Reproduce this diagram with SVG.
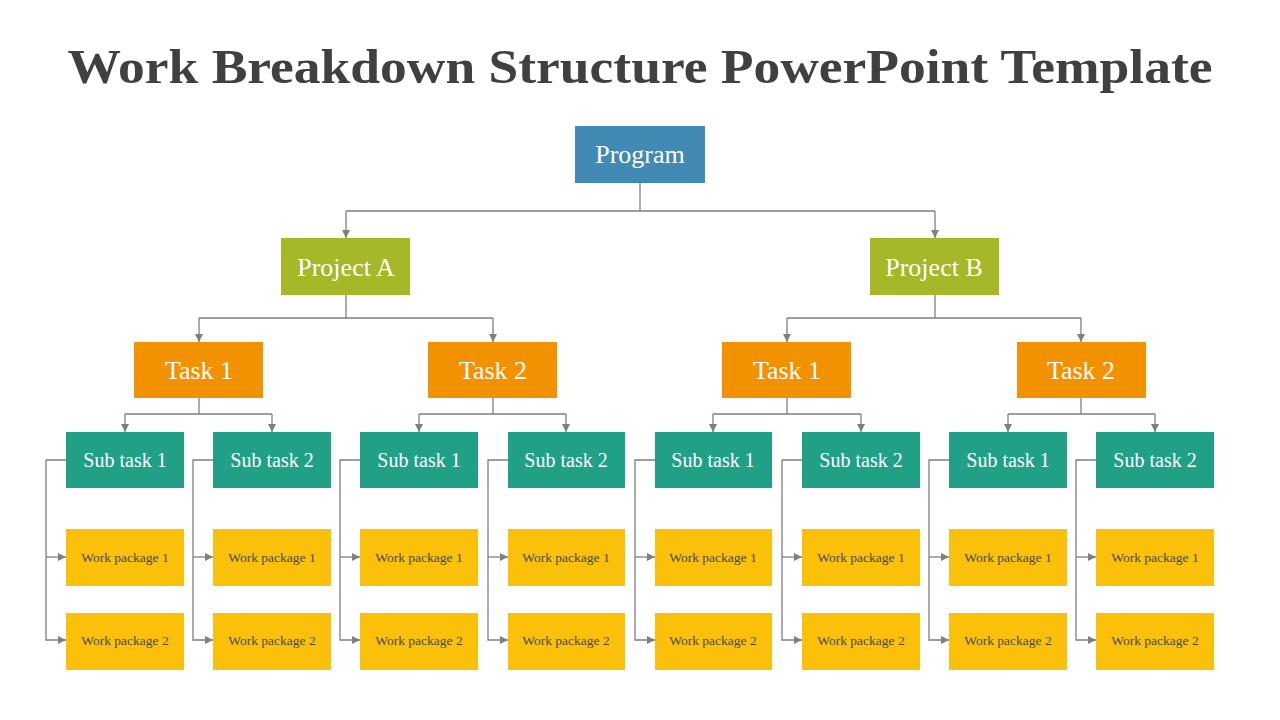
<svg xmlns="http://www.w3.org/2000/svg" width="1280" height="720" viewBox="0 0 1280 720">
<style>
.t{font-family:"Liberation Serif","DejaVu Serif",serif;text-anchor:middle;dominant-baseline:central}
.title{font-family:"Liberation Serif","DejaVu Serif",serif;font-weight:bold;font-size:48px;fill:#404040;text-anchor:middle}
.prog{fill:#418AB3}
.proj{fill:#A6B727}
.task{fill:#F39200}
.sub{fill:#20A085}
.wp{fill:#FBC00A}
.lw{fill:#fff;font-size:26px}
.lt{fill:#fff;font-size:20px}
.lp{fill:#4a4a4a;font-size:13.5px}
.c{fill:none;stroke:#7f7f7f;stroke-width:1.3}
</style>
<defs>
<marker id="a" viewBox="0 0 10 10" refX="10" refY="5" markerWidth="8" markerHeight="8" orient="auto" markerUnits="userSpaceOnUse">
<path d="M0,0 L10,5 L0,10 z" fill="#7f7f7f"/>
</marker>
</defs>
<rect width="1280" height="720" fill="#fff"/>
<text class="title" x="640" y="83" textLength="1145" lengthAdjust="spacingAndGlyphs">Work Breakdown Structure PowerPoint Template</text>

<g id="connectors">
<path class="c" d="M640,183 V211 M346,211 H935"/>
<path class="c" d="M346,211 V238" marker-end="url(#a)"/>
<path class="c" d="M935,211 V238" marker-end="url(#a)"/>
<path class="c" d="M346,295 V318 M199,318 H493"/>
<path class="c" d="M199,318 V342" marker-end="url(#a)"/>
<path class="c" d="M493,318 V342" marker-end="url(#a)"/>
<path class="c" d="M935,295 V318 M787,318 H1081"/>
<path class="c" d="M787,318 V342" marker-end="url(#a)"/>
<path class="c" d="M1081,318 V342" marker-end="url(#a)"/>
<path class="c" d="M199,398 V414 M125,414 H272"/>
<path class="c" d="M125,414 V432" marker-end="url(#a)"/>
<path class="c" d="M272,414 V432" marker-end="url(#a)"/>
<path class="c" d="M493,398 V414 M419,414 H566"/>
<path class="c" d="M419,414 V432" marker-end="url(#a)"/>
<path class="c" d="M566,414 V432" marker-end="url(#a)"/>
<path class="c" d="M787,398 V414 M713,414 H861"/>
<path class="c" d="M713,414 V432" marker-end="url(#a)"/>
<path class="c" d="M861,414 V432" marker-end="url(#a)"/>
<path class="c" d="M1081,398 V414 M1008,414 H1155"/>
<path class="c" d="M1008,414 V432" marker-end="url(#a)"/>
<path class="c" d="M1155,414 V432" marker-end="url(#a)"/>
<path class="c" d="M66,460 H46 V640 H66" marker-end="url(#a)"/>
<path class="c" d="M46,557 H66" marker-end="url(#a)"/>
<path class="c" d="M213,460 H193 V640 H213" marker-end="url(#a)"/>
<path class="c" d="M193,557 H213" marker-end="url(#a)"/>
<path class="c" d="M360,460 H340 V640 H360" marker-end="url(#a)"/>
<path class="c" d="M340,557 H360" marker-end="url(#a)"/>
<path class="c" d="M508,460 H488 V640 H508" marker-end="url(#a)"/>
<path class="c" d="M488,557 H508" marker-end="url(#a)"/>
<path class="c" d="M655,460 H635 V640 H655" marker-end="url(#a)"/>
<path class="c" d="M635,557 H655" marker-end="url(#a)"/>
<path class="c" d="M802,460 H782 V640 H802" marker-end="url(#a)"/>
<path class="c" d="M782,557 H802" marker-end="url(#a)"/>
<path class="c" d="M949,460 H929 V640 H949" marker-end="url(#a)"/>
<path class="c" d="M929,557 H949" marker-end="url(#a)"/>
<path class="c" d="M1096,460 H1076 V640 H1096" marker-end="url(#a)"/>
<path class="c" d="M1076,557 H1096" marker-end="url(#a)"/>
</g>

<g id="program"><rect class="prog" x="575" y="126" width="130" height="57"/><text class="t lw" x="640" y="154">Program</text></g>
<g id="projectA"><rect class="proj" x="281" y="238" width="129" height="57"/><text class="t lw" x="346" y="267">Project A</text></g>
<g id="projectB"><rect class="proj" x="870" y="238" width="129" height="57"/><text class="t lw" x="934" y="267">Project B</text></g>

<g id="taskA1"><rect class="task" x="134" y="342" width="129" height="56"/><text class="t lw" x="199" y="370">Task 1</text></g>
<g id="taskA2"><rect class="task" x="428" y="342" width="129" height="56"/><text class="t lw" x="493" y="370">Task 2</text></g>
<g id="taskB1"><rect class="task" x="722" y="342" width="129" height="56"/><text class="t lw" x="787" y="370">Task 1</text></g>
<g id="taskB2"><rect class="task" x="1017" y="342" width="129" height="56"/><text class="t lw" x="1081" y="370">Task 2</text></g>

<g id="subA1a"><rect class="sub" x="66" y="432" width="118" height="56"/><text class="t lt" x="125" y="460">Sub task 1</text></g>
<g id="subA1b"><rect class="sub" x="213" y="432" width="118" height="56"/><text class="t lt" x="272" y="460">Sub task 2</text></g>
<g id="subA2a"><rect class="sub" x="360" y="432" width="118" height="56"/><text class="t lt" x="419" y="460">Sub task 1</text></g>
<g id="subA2b"><rect class="sub" x="508" y="432" width="117" height="56"/><text class="t lt" x="566" y="460">Sub task 2</text></g>
<g id="subB1a"><rect class="sub" x="655" y="432" width="117" height="56"/><text class="t lt" x="713" y="460">Sub task 1</text></g>
<g id="subB1b"><rect class="sub" x="802" y="432" width="118" height="56"/><text class="t lt" x="861" y="460">Sub task 2</text></g>
<g id="subB2a"><rect class="sub" x="949" y="432" width="118" height="56"/><text class="t lt" x="1008" y="460">Sub task 1</text></g>
<g id="subB2b"><rect class="sub" x="1096" y="432" width="118" height="56"/><text class="t lt" x="1155" y="460">Sub task 2</text></g>

<g id="wp1a"><rect class="wp" x="66" y="529" width="118" height="57"/><text class="t lp" x="125" y="557">Work package 1</text></g>
<g id="wp1b"><rect class="wp" x="66" y="613" width="118" height="57"/><text class="t lp" x="125" y="640">Work package 2</text></g>
<g id="wp2a"><rect class="wp" x="213" y="529" width="118" height="57"/><text class="t lp" x="272" y="557">Work package 1</text></g>
<g id="wp2b"><rect class="wp" x="213" y="613" width="118" height="57"/><text class="t lp" x="272" y="640">Work package 2</text></g>
<g id="wp3a"><rect class="wp" x="360" y="529" width="118" height="57"/><text class="t lp" x="419" y="557">Work package 1</text></g>
<g id="wp3b"><rect class="wp" x="360" y="613" width="118" height="57"/><text class="t lp" x="419" y="640">Work package 2</text></g>
<g id="wp4a"><rect class="wp" x="508" y="529" width="117" height="57"/><text class="t lp" x="566" y="557">Work package 1</text></g>
<g id="wp4b"><rect class="wp" x="508" y="613" width="117" height="57"/><text class="t lp" x="566" y="640">Work package 2</text></g>
<g id="wp5a"><rect class="wp" x="655" y="529" width="117" height="57"/><text class="t lp" x="713" y="557">Work package 1</text></g>
<g id="wp5b"><rect class="wp" x="655" y="613" width="117" height="57"/><text class="t lp" x="713" y="640">Work package 2</text></g>
<g id="wp6a"><rect class="wp" x="802" y="529" width="118" height="57"/><text class="t lp" x="861" y="557">Work package 1</text></g>
<g id="wp6b"><rect class="wp" x="802" y="613" width="118" height="57"/><text class="t lp" x="861" y="640">Work package 2</text></g>
<g id="wp7a"><rect class="wp" x="949" y="529" width="118" height="57"/><text class="t lp" x="1008" y="557">Work package 1</text></g>
<g id="wp7b"><rect class="wp" x="949" y="613" width="118" height="57"/><text class="t lp" x="1008" y="640">Work package 2</text></g>
<g id="wp8a"><rect class="wp" x="1096" y="529" width="118" height="57"/><text class="t lp" x="1155" y="557">Work package 1</text></g>
<g id="wp8b"><rect class="wp" x="1096" y="613" width="118" height="57"/><text class="t lp" x="1155" y="640">Work package 2</text></g>
</svg>
